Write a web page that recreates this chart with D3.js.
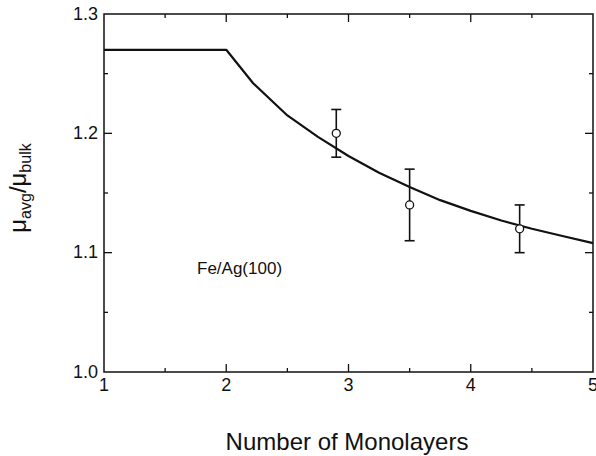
<!DOCTYPE html>
<html>
<head>
<meta charset="utf-8">
<script src="https://cdn.jsdelivr.net/npm/d3@7"></script>
<style>
  body { margin: 0; background: #fff; }
  text { font-family: "Liberation Sans", Arial, Helvetica, sans-serif; fill: #111; }
</style>
</head>
<body>
<div id="plot"></div>
<script>
// model curve
let curveX = [1, 2, 2.22, 2.5, 2.75, 3, 3.25, 3.5, 3.75, 4, 4.25, 4.5, 4.75, 5]
let curveY = [1.27, 1.27, 1.242, 1.215, 1.197, 1.181, 1.167, 1.155, 1.144, 1.135, 1.127, 1.12, 1.114, 1.108]

// measured points with error bars
let pointX = [2.9, 3.5, 4.4]
let pointY = [1.20, 1.14, 1.12]
let errLow = [1.18, 1.11, 1.10]
let errHigh = [1.22, 1.17, 1.14]

let xTicks = [1, 2, 3, 4, 5]
let yTicks = [1.0, 1.1, 1.2, 1.3]
let xMinor = [1.5, 2.5, 3.5, 4.5]
let yMinor = [1.05, 1.15, 1.25]

let svg = d3.select('#plot').append('svg')
.attr('width', 596)
.attr('height', 456)

let pLeft = 104, pRight = 593, pTop = 14, pBottom = 372

let x = d3.scaleLinear().domain([1, 5]).range([pLeft, pRight])
let y = d3.scaleLinear().domain([1.0, 1.3]).range([pBottom, pTop])

let g = svg.append('g')

// frame
g.append('rect')
.attr('x', pLeft)
.attr('y', pTop)
.attr('width', pRight - pLeft)
.attr('height', pBottom - pTop)
.attr('fill', 'none')
.attr('stroke', '#111')
.attr('stroke-width', 1.5)

// ticks, pointing inward on all sides
function xticks(vals, len) {
  vals.forEach(function(v) {
    g.append('line').attr('x1', x(v)).attr('x2', x(v)).attr('y1', pBottom).attr('y2', pBottom - len)
    .attr('stroke', '#111').attr('stroke-width', 1.3)
    g.append('line').attr('x1', x(v)).attr('x2', x(v)).attr('y1', pTop).attr('y2', pTop + len)
    .attr('stroke', '#111').attr('stroke-width', 1.3)
  })
}
function yticks(vals, len) {
  vals.forEach(function(v) {
    g.append('line').attr('x1', pLeft).attr('x2', pLeft + len).attr('y1', y(v)).attr('y2', y(v))
    .attr('stroke', '#111').attr('stroke-width', 1.3)
    g.append('line').attr('x1', pRight).attr('x2', pRight - len).attr('y1', y(v)).attr('y2', y(v))
    .attr('stroke', '#111').attr('stroke-width', 1.3)
  })
}
xticks(xTicks.slice(1, -1), 8)
xticks(xMinor, 4)
yticks(yTicks.slice(1, -1), 8)
yticks(yMinor, 4)

// tick labels
g.selectAll('.xl').data(xTicks).enter()
.append('text')
.attr('x', d => x(d))
.attr('y', 391)
.attr('text-anchor', 'middle')
.style('font-size', '18px')
.text(d => d)

g.selectAll('.yl').data(yTicks).enter()
.append('text')
.attr('x', pLeft - 6)
.attr('y', d => y(d) + 5.5)
.attr('text-anchor', 'end')
.style('font-size', '18px')
.text(d => d3.format('.1f')(d))

// curve
let line = d3.line().x(d => x(d[0])).y(d => y(d[1]))
g.append('path')
.datum(curveX.map((v, i) => [v, curveY[i]]))
.attr('d', line)
.attr('fill', 'none')
.attr('stroke', '#111')
.attr('stroke-width', 2.2)
.attr('stroke-linejoin', 'round')

// error bars
pointX.forEach(function(px, i) {
  g.append('line').attr('x1', x(px)).attr('x2', x(px)).attr('y1', y(errLow[i])).attr('y2', y(errHigh[i]))
  .attr('stroke', '#111').attr('stroke-width', 1.6)
  g.append('line').attr('x1', x(px) - 5).attr('x2', x(px) + 5).attr('y1', y(errLow[i])).attr('y2', y(errLow[i]))
  .attr('stroke', '#111').attr('stroke-width', 1.6)
  g.append('line').attr('x1', x(px) - 5).attr('x2', x(px) + 5).attr('y1', y(errHigh[i])).attr('y2', y(errHigh[i]))
  .attr('stroke', '#111').attr('stroke-width', 1.6)
})

g.selectAll('circle').data(pointX).enter()
.append('circle')
.attr('cx', d => x(d))
.attr('cy', (d, i) => y(pointY[i]))
.attr('r', 4)
.attr('fill', '#fff')
.attr('stroke', '#111')
.attr('stroke-width', 1.3)

// annotation
g.append('text')
.attr('x', 197)
.attr('y', 274)
.style('font-size', '17px')
.text('Fe/Ag(100)')

// x title
g.append('text')
.attr('x', 347)
.attr('y', 450)
.attr('text-anchor', 'middle')
.style('font-size', '24px')
.text('Number of Monolayers')

// y title
let yt = g.append('text')
.attr('transform', 'translate(26, 188) rotate(-90)')
.attr('text-anchor', 'middle')
.style('font-size', '24px')
yt.append('tspan').text('μ')
yt.append('tspan').attr('dy', 5).style('font-size', '16px').text('avg')
yt.append('tspan').attr('dy', -5).text('/μ')
yt.append('tspan').attr('dy', 5).style('font-size', '16px').text('bulk')
</script>
</body>
</html>
